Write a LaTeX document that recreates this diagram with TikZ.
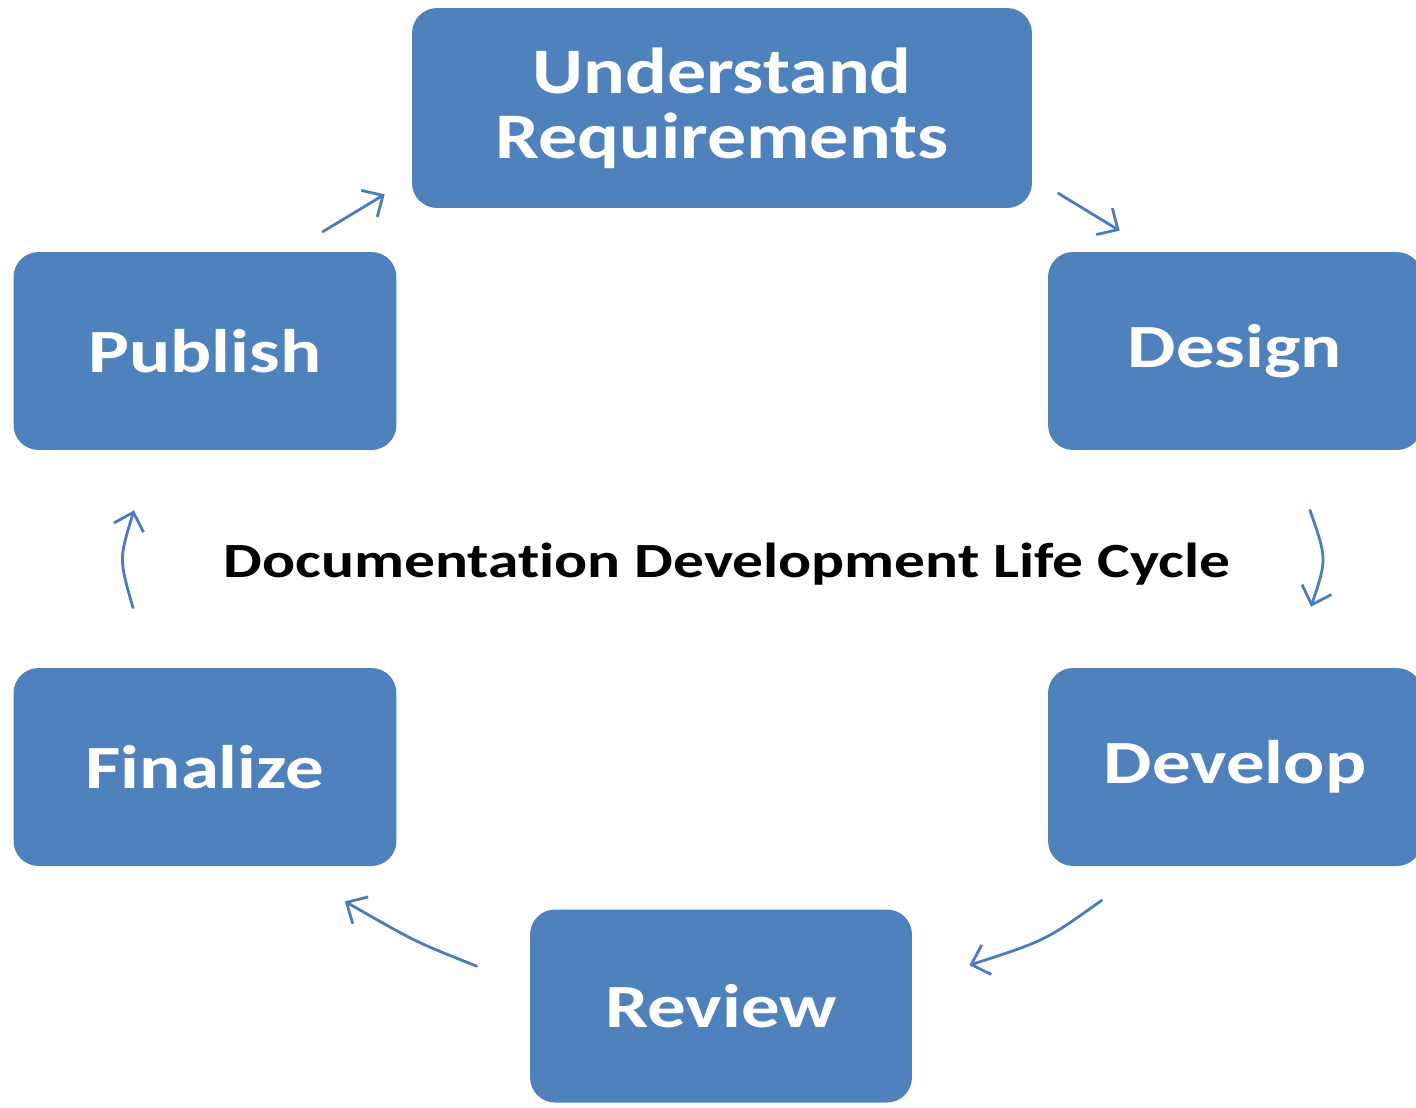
\documentclass[tikz,border=0pt]{standalone}
\usepackage{fontspec}
\setmainfont{Carlito}[Ligatures=CommonOff]
\usetikzlibrary{arrows.meta,calc}
\definecolor{stageblue}{HTML}{4F81BD}
\definecolor{flowblue}{HTML}{4A7DBD}
\newcommand{\wide}[2][1.25]{\scalebox{#1}[1]{#2}}

\begin{document}
\begin{tikzpicture}[x=0.02cm,y=-0.02cm,
    stage/.style={fill=stageblue, rounded corners=0.5cm, text=white, align=center,
      inner sep=0pt, font=\fontsize{35}{36}\selectfont\bfseries},
    flow/.style={draw=flowblue, line width=1.6pt, line cap=round,
      -{Straight Barb[length=0.32cm,width=0.62cm,line width=1.6pt]}}]
    %%%%% START %%%%%

    \useasboundingbox (0,0) rectangle (1416,1107);

    % the six stages
    \node[stage, minimum width=12.4cm, minimum height=4cm,
      font=\fontsize{37}{37}\selectfont\bfseries] (understand) at (722,108) {\wide[1.2]{Understand}\\\wide[1.2]{Requirements}};
    \node[stage, minimum width=7.48cm, minimum height=3.96cm] (design) at (1235,351) {\wide{Design}};
    \node[stage, minimum width=7.48cm, minimum height=3.96cm] (develop) at (1235,767) {\wide{Develop}};
    \node[stage, minimum width=7.64cm, minimum height=3.86cm] (review) at (721,1006) {\wide{Review}};
    \node[stage, minimum width=7.66cm, minimum height=3.96cm] (finalize) at (205,767) {\wide{Finalize}};
    \node[stage, minimum width=7.66cm, minimum height=3.96cm] (publish) at (205,351) {\wide{Publish}};

    % title in the middle
    \node[anchor=base, font=\fontsize{28}{30}\selectfont\bfseries] (title) at (727,577) {\wide{Documentation Development Life Cycle}};

    % arrows round the cycle
    \draw[flow] ($(publish.north east)+(-74,-20)$) -- ($(understand.south west)+(-27,-14)$);
    \draw[flow] ($(understand.south east)+(26,-15)$) -- ($(design.north west)+(72,-21)$);
    \draw[flow] ($(design.south)+(75,60)$) .. controls ($(design.south)!0.5!(develop.north)+(92,0)$) .. ($(develop.north)+(76,-61)$);
    \draw[flow] ($(develop.south west)+(54,34)$) .. controls ($(develop.south west)!0.5!(review.north east)+(65,53)$) .. ($(review.north east)+(57,56)$);
    \draw[flow] ($(review.north west)+(-53,57)$) .. controls ($(review.north west)!0.5!(finalize.south east)+(-48,54)$) .. ($(finalize.south east)+(-52,35)$);
    \draw[flow] ($(finalize.north)+(-72,-60)$) .. controls ($(finalize.north)!0.5!(publish.south)+(-86,0)$) .. ($(publish.south)+(-71,60)$);

    %%%%% END %%%%%
\end{tikzpicture}
\end{document}
